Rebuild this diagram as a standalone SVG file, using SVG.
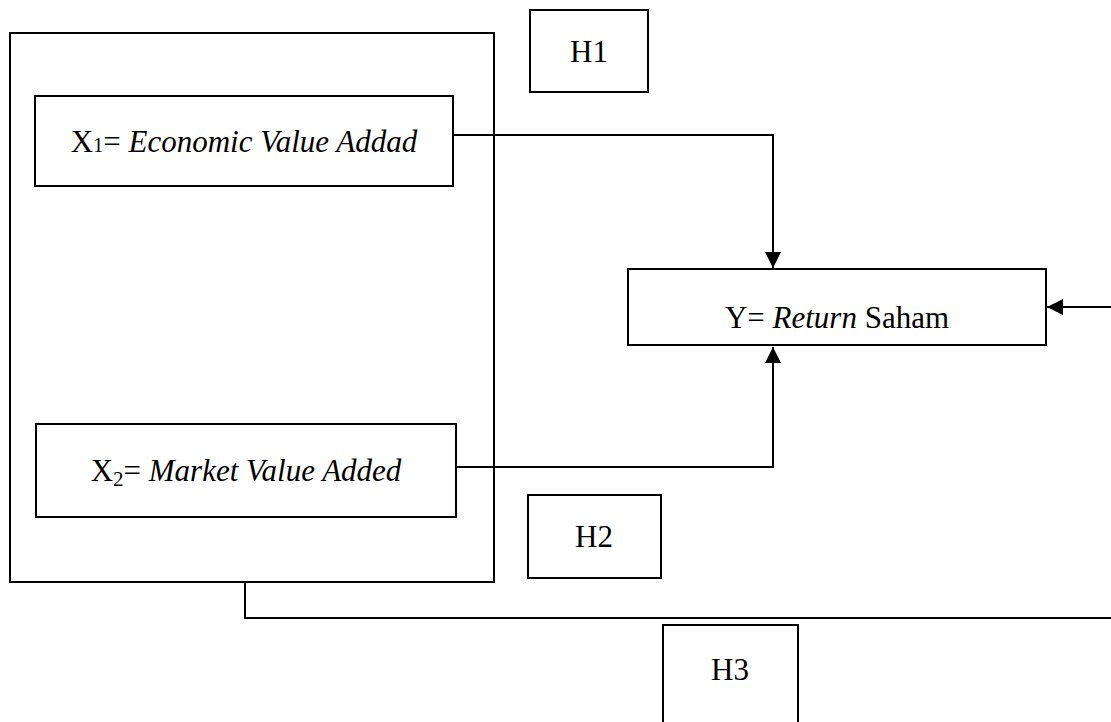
<svg xmlns="http://www.w3.org/2000/svg" width="1111" height="722" viewBox="0 0 1111 722">
<defs>
<style>
.box{fill:#fff;stroke:#000;stroke-width:2}
.frame{fill:none;stroke:#000;stroke-width:2}
.t{font-family:"Liberation Serif","Times New Roman",serif;font-size:31px;fill:#000}
.i{font-style:italic}
.ln{fill:none;stroke:#000;stroke-width:2}
</style>
<marker id="ah" viewBox="0 0 10 10" refX="10" refY="5" markerWidth="8" markerHeight="8" markerUnits="strokeWidth" orient="auto">
<path d="M0,0 L10,5 L0,10 Z" fill="#000"/>
</marker>
</defs>
<rect width="1111" height="722" fill="#fff"/>
<g id="connectors">
<polyline class="ln" points="453,135 773,135 773,268" marker-end="url(#ah)"/>
<polyline class="ln" points="456,467 773,467 773,347" marker-end="url(#ah)"/>
<polyline class="ln" points="245,582 245,618 1111,618"/>
<polyline class="ln" points="1111,307 1047,307" marker-end="url(#ah)"/>
</g>
<g id="group-x">
<rect class="frame" x="10" y="33" width="484" height="549"/>
</g>
<g id="x1">
<rect class="box" x="35" y="96" width="418" height="90"/>
<text class="t" x="244" y="152" text-anchor="middle">X<tspan font-size="20">1</tspan>= <tspan class="i">Economic Value Addad</tspan></text>
</g>
<g id="x2">
<rect class="box" x="36" y="424" width="420" height="93"/>
<text class="t" x="246" y="481" text-anchor="middle">X<tspan font-size="21" dy="5">2</tspan><tspan dy="-5">= </tspan><tspan class="i">Market Value Added</tspan></text>
</g>
<g id="y">
<rect class="box" x="628" y="269" width="418" height="76"/>
<text class="t" x="837" y="328" text-anchor="middle">Y= <tspan class="i">Return</tspan> Saham</text>
</g>
<g id="h1">
<rect class="box" x="530" y="10" width="118" height="82"/>
<text class="t" x="589" y="62" text-anchor="middle">H1</text>
</g>
<g id="h2">
<rect class="box" x="528" y="495" width="133" height="83"/>
<text class="t" x="594" y="547" text-anchor="middle">H2</text>
</g>
<g id="h3">
<rect class="box" x="663" y="625" width="135" height="100"/>
<text class="t" x="730" y="680" text-anchor="middle">H3</text>
</g>
</svg>
